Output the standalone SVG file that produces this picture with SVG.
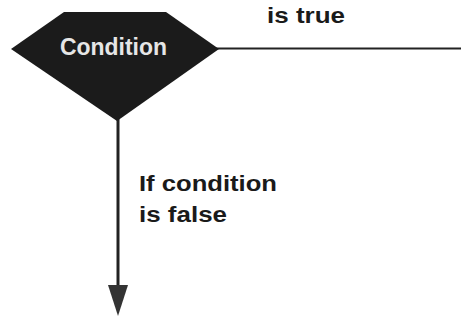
<svg xmlns="http://www.w3.org/2000/svg" width="461" height="321" viewBox="0 0 461 321">
<style>
.lbl{font-family:"Liberation Sans",Arial,sans-serif;font-weight:bold;font-size:22px;fill:#1a1a1a}
.cond{font-family:"Liberation Sans",Arial,sans-serif;font-weight:bold;font-size:23px;fill:#e6e6e6}
.line{stroke:#222;fill:none}
</style>
<rect width="461" height="321" fill="#fff"/>
<g id="connectors">
<line class="line" x1="216" y1="48.5" x2="461" y2="48.5" stroke-width="2.2"/>
<line class="line" x1="118" y1="118" x2="118" y2="290" stroke-width="3" stroke="#333"/>
<polygon points="108,285 128,285 118,316" fill="#333"/>
</g>
<g id="condition">
<polygon points="11,49 64,12 166,12 219,49 117,121" fill="#1b1b1b"/>
<text class="cond" x="60" y="55" textLength="107" lengthAdjust="spacingAndGlyphs">Condition</text>
</g>
<g id="label-true">
<text class="lbl" x="267" y="23" textLength="78" lengthAdjust="spacingAndGlyphs">is true</text>
</g>
<g id="label-false">
<text class="lbl" x="139" y="191" textLength="138" lengthAdjust="spacingAndGlyphs">If condition</text>
<text class="lbl" x="139" y="222" textLength="88" lengthAdjust="spacingAndGlyphs">is false</text>
</g>
</svg>
